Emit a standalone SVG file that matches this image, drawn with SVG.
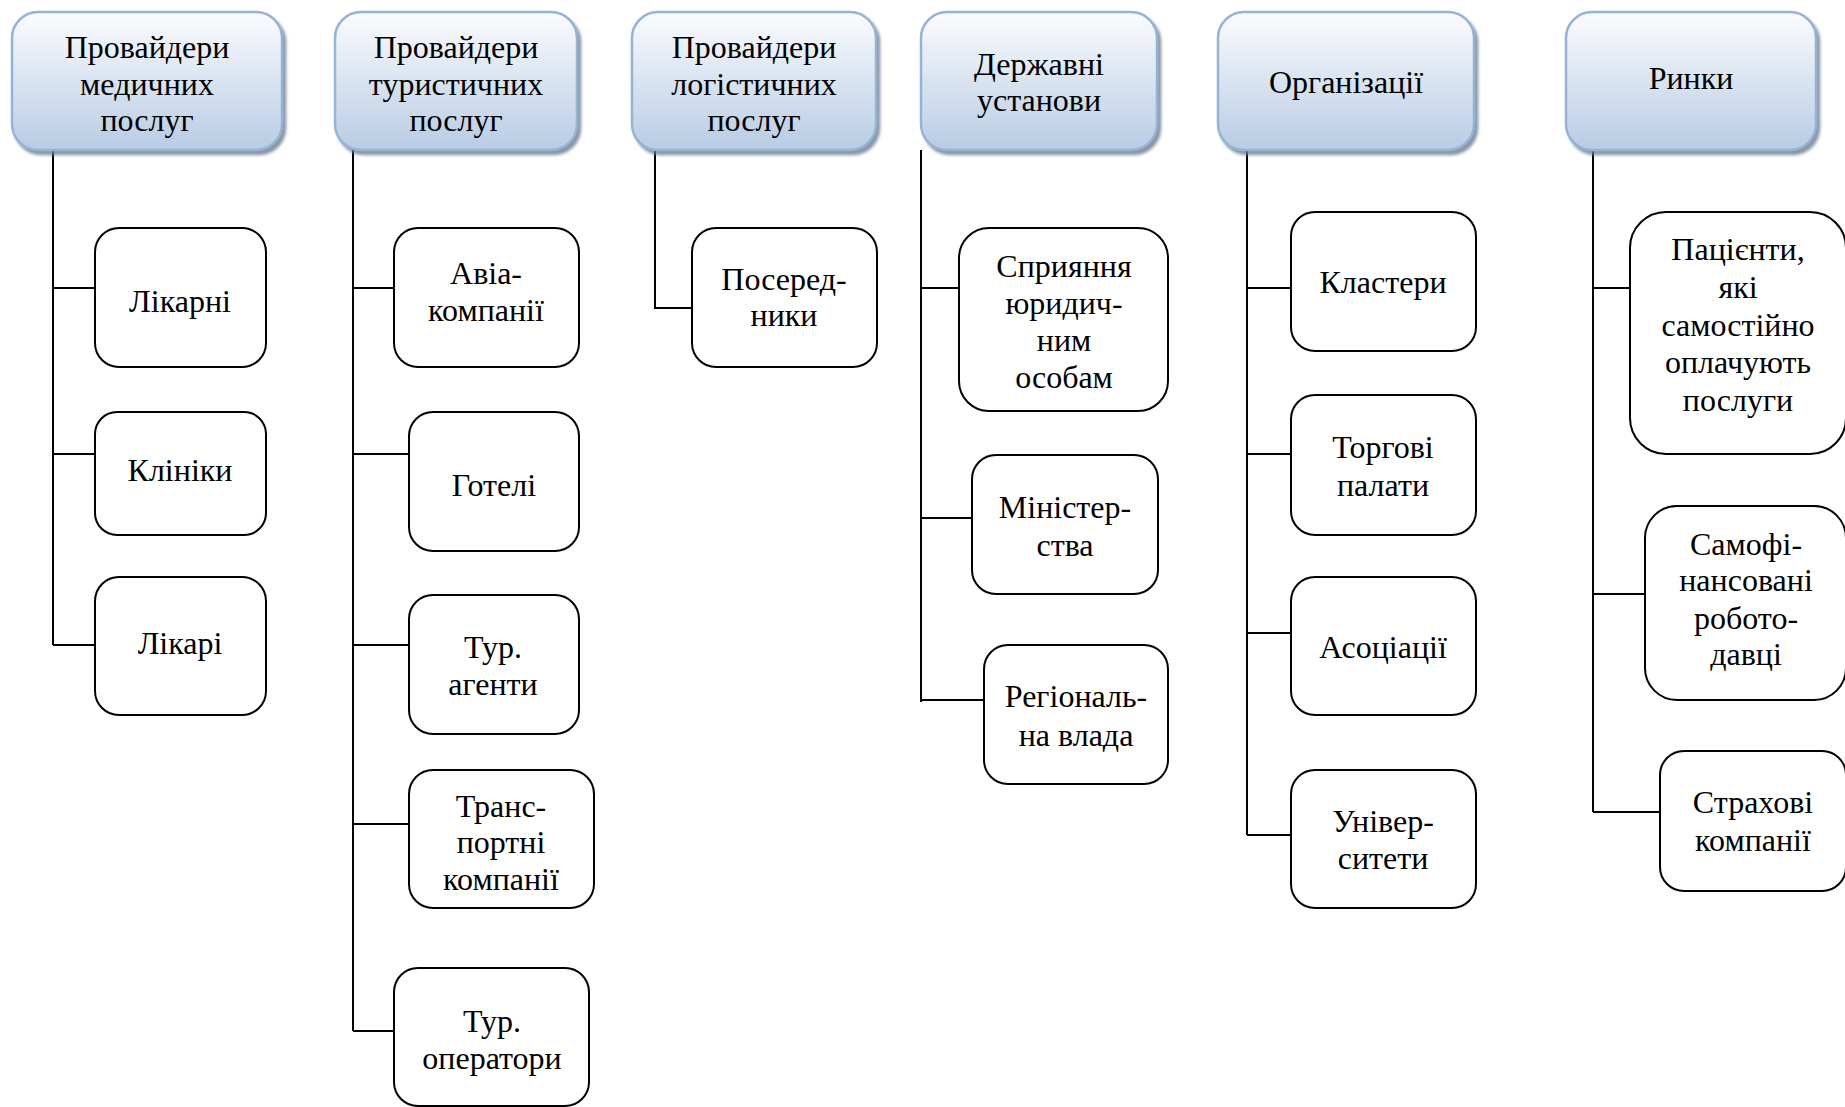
<svg xmlns="http://www.w3.org/2000/svg" width="1845" height="1107" viewBox="0 0 1845 1107">
<defs>
<linearGradient id="hg" x1="0" y1="0" x2="0" y2="1">
<stop offset="0" stop-color="#fbfcfe"/>
<stop offset="0.45" stop-color="#dde6f2"/>
<stop offset="1" stop-color="#b8cce4"/>
</linearGradient>
<filter id="sh" x="-10%" y="-10%" width="125%" height="130%">
<feDropShadow dx="3" dy="4" stdDeviation="1.5" flood-color="#6d7c91" flood-opacity="0.8"/>
</filter>
<style>
.hd{fill:url(#hg);stroke:#95b3d7;stroke-width:2.5;filter:url(#sh)}
.bx{fill:#fff;stroke:#000;stroke-width:2}
.ln{fill:none;stroke:#000;stroke-width:2}
text{font-family:"Liberation Serif","Times New Roman",serif;font-size:32px;fill:#000;text-anchor:middle}
</style>
</defs>
<rect width="1845" height="1107" fill="#fff"/>

<g id="connectors">
<path class="ln" d="M53 150V645M53 288H95M53 454H95M53 645H95"/>
<path class="ln" d="M353 150V1031M353 288H394M353 454H409M353 645H409M353 824H409M353 1031H394"/>
<path class="ln" d="M655 150V308H692"/>
<path class="ln" d="M921 150V702M921 288H959M921 518H972M921 700H984"/>
<path class="ln" d="M1247 150V835M1247 288H1291M1247 454H1291M1247 633H1291M1247 835H1291"/>
<path class="ln" d="M1593 150V812M1593 288H1630M1593 594H1645M1593 812H1660"/>
</g>

<g id="h1"><rect class="hd" x="12" y="12" width="270" height="138" rx="26"/>
<text x="147" y="58">Провайдери</text><text x="147" y="95">медичних</text><text x="147" y="131">послуг</text></g>
<g id="h2"><rect class="hd" x="335" y="12" width="242" height="138" rx="26"/>
<text x="456" y="58">Провайдери</text><text x="456" y="95">туристичних</text><text x="456" y="131">послуг</text></g>
<g id="h3"><rect class="hd" x="632" y="12" width="244" height="138" rx="26"/>
<text x="754" y="58">Провайдери</text><text x="754" y="95">логістичних</text><text x="754" y="131">послуг</text></g>
<g id="h4"><rect class="hd" x="921" y="12" width="236" height="138" rx="26"/>
<text x="1039" y="75">Державні</text><text x="1039" y="111">установи</text></g>
<g id="h5"><rect class="hd" x="1218" y="12" width="256" height="138" rx="26"/>
<text x="1346" y="93">Організації</text></g>
<g id="h6"><rect class="hd" x="1566" y="12" width="250" height="138" rx="26"/>
<text x="1691" y="89">Ринки</text></g>

<g id="c1a"><rect class="bx" x="95" y="228" width="171" height="139" rx="24"/><text x="180" y="312">Лікарні</text></g>
<g id="c1b"><rect class="bx" x="95" y="412" width="171" height="123" rx="22"/><text x="180" y="481">Клініки</text></g>
<g id="c1c"><rect class="bx" x="95" y="577" width="171" height="138" rx="24"/><text x="180" y="654">Лікарі</text></g>

<g id="c2a"><rect class="bx" x="394" y="228" width="185" height="139" rx="24"/><text x="486" y="284">Авіа-</text><text x="486" y="321">компанії</text></g>
<g id="c2b"><rect class="bx" x="409" y="412" width="170" height="139" rx="24"/><text x="494" y="496">Готелі</text></g>
<g id="c2c"><rect class="bx" x="409" y="595" width="170" height="139" rx="24"/><text x="493" y="658">Тур.</text><text x="493" y="695">агенти</text></g>
<g id="c2d"><rect class="bx" x="409" y="770" width="185" height="138" rx="24"/><text x="501" y="817">Транс-</text><text x="501" y="853">портні</text><text x="501" y="890">компанії</text></g>
<g id="c2e"><rect class="bx" x="394" y="968" width="195" height="138" rx="24"/><text x="492" y="1032">Тур.</text><text x="492" y="1069">оператори</text></g>

<g id="c3a"><rect class="bx" x="692" y="228" width="185" height="139" rx="24"/><text x="784" y="290">Посеред-</text><text x="784" y="326">ники</text></g>

<g id="c4a"><rect class="bx" x="959" y="228" width="209" height="183" rx="30"/><text x="1064" y="277">Сприяння</text><text x="1064" y="314">юридич-</text><text x="1064" y="351">ним</text><text x="1064" y="388">особам</text></g>
<g id="c4b"><rect class="bx" x="972" y="455" width="186" height="139" rx="24"/><text x="1065" y="518">Міністер-</text><text x="1065" y="556">ства</text></g>
<g id="c4c"><rect class="bx" x="984" y="645" width="184" height="139" rx="24"/><text x="1076" y="707">Регіональ-</text><text x="1076" y="746">на влада</text></g>

<g id="c5a"><rect class="bx" x="1291" y="212" width="185" height="139" rx="24"/><text x="1383" y="293">Кластери</text></g>
<g id="c5b"><rect class="bx" x="1291" y="395" width="185" height="140" rx="24"/><text x="1383" y="458">Торгові</text><text x="1383" y="496">палати</text></g>
<g id="c5c"><rect class="bx" x="1291" y="577" width="185" height="138" rx="24"/><text x="1383" y="658">Асоціації</text></g>
<g id="c5d"><rect class="bx" x="1291" y="770" width="185" height="138" rx="24"/><text x="1383" y="832">Універ-</text><text x="1383" y="869">ситети</text></g>

<g id="c6a"><rect class="bx" x="1630" y="212" width="216" height="242" rx="36"/><text x="1738" y="260">Пацієнти,</text><text x="1738" y="298">які</text><text x="1738" y="336">самостійно</text><text x="1738" y="373">оплачують</text><text x="1738" y="411">послуги</text></g>
<g id="c6b"><rect class="bx" x="1645" y="506" width="201" height="194" rx="32"/><text x="1746" y="555">Самофі-</text><text x="1746" y="591">нансовані</text><text x="1746" y="629">робото-</text><text x="1746" y="665">давці</text></g>
<g id="c6c"><rect class="bx" x="1660" y="751" width="186" height="140" rx="24"/><text x="1753" y="813">Страхові</text><text x="1753" y="851">компанії</text></g>
</svg>
